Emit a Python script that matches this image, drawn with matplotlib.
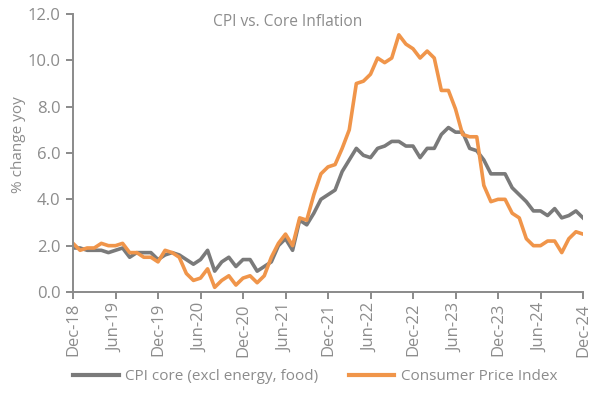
import matplotlib
matplotlib.use("Agg")
import matplotlib.pyplot as plt
from matplotlib.lines import Line2D

plt.rcParams['font.family'] = ['Open Sans', 'DejaVu Sans']

tick_labels = ["Dec-18", "Jun-19", "Dec-19", "Jun-20", "Dec-20", "Jun-21", "Dec-21",
               "Jun-22", "Dec-22", "Jun-23", "Dec-23", "Jun-24", "Dec-24"]

# Monthly, Dec-18 .. Dec-24
core = [1.9,
        1.9, 1.8, 1.8, 1.8, 1.7, 1.8, 1.9, 1.5, 1.7, 1.7, 1.7, 1.4,
        1.6, 1.7, 1.6, 1.4, 1.2, 1.4, 1.8, 0.9, 1.3, 1.5, 1.1, 1.4,
        1.4, 0.9, 1.1, 1.3, 2.0, 2.3, 1.8, 3.1, 2.9, 3.4, 4.0, 4.2,
        4.4, 5.2, 5.7, 6.2, 5.9, 5.8, 6.2, 6.3, 6.5, 6.5, 6.3, 6.3,
        5.8, 6.2, 6.2, 6.8, 7.1, 6.9, 6.9, 6.2, 6.1, 5.7, 5.1, 5.1,
        5.1, 4.5, 4.2, 3.9, 3.5, 3.5, 3.3, 3.6, 3.2, 3.3, 3.5, 3.2]
cpi = [2.1,
       1.8, 1.9, 1.9, 2.1, 2.0, 2.0, 2.1, 1.7, 1.7, 1.5, 1.5, 1.3,
       1.8, 1.7, 1.5, 0.8, 0.5, 0.6, 1.0, 0.2, 0.5, 0.7, 0.3, 0.6,
       0.7, 0.4, 0.7, 1.5, 2.1, 2.5, 2.0, 3.2, 3.1, 4.2, 5.1, 5.4,
       5.5, 6.2, 7.0, 9.0, 9.1, 9.4, 10.1, 9.9, 10.1, 11.1, 10.7, 10.5,
       10.1, 10.4, 10.1, 8.7, 8.7, 7.9, 6.8, 6.7, 6.7, 4.6, 3.9, 4.0,
       4.0, 3.4, 3.2, 2.3, 2.0, 2.0, 2.2, 2.2, 1.7, 2.3, 2.6, 2.5]

GRAY = "#7a7a7a"
ORANGE = "#f0954a"
TXT = "#8c8c8c"
SPINE = "#8a8a8a"

fig = plt.figure(figsize=(6.0, 3.95), dpi=100)
ax = fig.add_axes([73/600, 1-292/395, (583-73)/600, (292-14)/395])

x = list(range(len(cpi)))
ax.plot(x, core, color=GRAY, lw=2.6, solid_joinstyle='round')
ax.plot(x, cpi, color=ORANGE, lw=2.6, solid_joinstyle='round')

ax.set_xlim(0, len(cpi) - 1)
ax.set_ylim(0, 12)
ax.set_yticks([0, 2, 4, 6, 8, 10, 12])
ax.set_yticklabels([f"{v:.1f}" for v in [0, 2, 4, 6, 8, 10, 12]])
ax.set_xticks(list(range(0, len(cpi), 6)))
ax.set_xticklabels(tick_labels, rotation=90)

for s in ["top", "right"]:
    ax.spines[s].set_visible(False)
for s in ["left", "bottom"]:
    ax.spines[s].set_color(SPINE)
    ax.spines[s].set_linewidth(1.4)
ax.tick_params(axis='both', colors=SPINE, width=1.4, length=5, direction='out',
               labelcolor=TXT, labelsize=12)
ax.tick_params(axis='x', pad=3)
ax.tick_params(axis='y', pad=4)

ax.set_ylabel("% change yoy", color=TXT, fontsize=11)
ax.yaxis.set_label_coords(-0.092, 0.53)

fig.text(288/600, 1-22/395, "CPI vs. Core Inflation", ha='center', va='center',
         color=TXT, fontsize=11.2)

handles = [Line2D([], [], color=GRAY, lw=3.0), Line2D([], [], color=ORANGE, lw=3.0)]
fig.legend(handles, ["CPI core (excl energy, food)", "Consumer Price Index"],
           loc='center', bbox_to_anchor=(0.525, 1-377/395), ncol=2, frameon=False,
           fontsize=11, labelcolor=TXT, handlelength=3.0, columnspacing=2.0,
           handletextpad=0.4)

fig.savefig("out.png", dpi=100)
